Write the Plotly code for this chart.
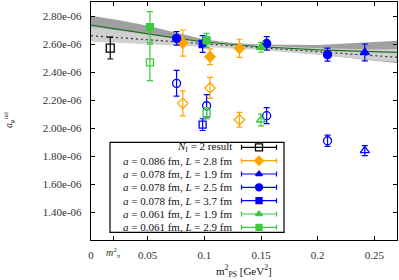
import plotly.graph_objects as go

# ---------------- data ----------------
nf2_x = [0.017]
nf2_y = [2.571e-6]
nf2_e = [0.078e-6]

# a = 0.086 fm, L = 2.8 fm (orange diamonds)
or_x = [0.081, 0.105, 0.131]
or_y_f = [2.607e-6, 2.509e-6, 2.569e-6]
or_e_f = [0.093e-6, 0.056e-6, 0.065e-6]
or_y_o = [2.176e-6, 2.286e-6, 2.059e-6]
or_e_o = [0.089e-6, 0.075e-6, 0.053e-6]

# a = 0.078 fm, L = 1.9 fm (blue triangles)
bt_x = [0.2416]
bt_y_f = [2.540e-6]
bt_e_f = [0.060e-6]
bt_y_o = [1.838e-6]
bt_e_o = [0.036e-6]

# a = 0.078 fm, L = 2.5 fm (blue circles)
bc_x_f = [0.0755, 0.155, 0.2087]
bc_y_f = [2.640e-6, 2.604e-6, 2.524e-6]
bc_e_f = [0.048e-6, 0.048e-6, 0.046e-6]
bc_x_o = [0.0755, 0.102, 0.155, 0.2087]
bc_y_o = [2.319e-6, 2.159e-6, 2.088e-6, 1.909e-6]
bc_e_o = [0.092e-6, 0.080e-6, 0.057e-6, 0.040e-6]

# a = 0.078 fm, L = 3.7 fm (blue squares)
bs_x = [0.0985]
bs_y_f = [2.600e-6]
bs_e_f = [0.060e-6]
bs_y_o = [2.024e-6]
bs_e_o = [0.042e-6]

# a = 0.061 fm, L = 1.9 fm (green triangles)
gt_x = [0.150]
gt_y_f = [2.576e-6]
gt_e_f = [0.035e-6]
gt_y_o = [2.057e-6]
gt_e_o = [0.042e-6]

# a = 0.061 fm, L = 2.9 fm (green squares)
gs_x = [0.052, 0.102]
gs_y_f = [2.721e-6, 2.626e-6]
gs_e_f = [0.110e-6, 0.050e-6]
gs_y_o = [2.469e-6, 2.105e-6]
gs_e_o = [0.130e-6, 0.040e-6]

# fit curves and bands
fit_x = [0.0, 0.025, 0.05, 0.075, 0.1, 0.125, 0.15, 0.2, 0.25, 0.27]
fitA_c = [2.736e-6, 2.704e-6, 2.672e-6, 2.642e-6, 2.614e-6, 2.595e-6, 2.580e-6, 2.558e-6, 2.545e-6, 2.540e-6]
fitA_hi = [2.802e-6, 2.770e-6, 2.730e-6, 2.680e-6, 2.632e-6, 2.608e-6, 2.597e-6, 2.592e-6, 2.612e-6, 2.624e-6]
fitA_lo = [2.670e-6, 2.640e-6, 2.615e-6, 2.600e-6, 2.590e-6, 2.580e-6, 2.563e-6, 2.525e-6, 2.480e-6, 2.465e-6]
fitB_c = [2.659e-6, 2.645e-6, 2.631e-6, 2.617e-6, 2.603e-6, 2.589e-6, 2.575e-6, 2.546e-6, 2.516e-6, 2.505e-6]
fitB_hi = [2.722e-6, 2.695e-6, 2.668e-6, 2.642e-6, 2.620e-6, 2.603e-6, 2.590e-6, 2.570e-6, 2.560e-6, 2.564e-6]
fitB_lo = [2.617e-6, 2.608e-6, 2.598e-6, 2.590e-6, 2.582e-6, 2.570e-6, 2.558e-6, 2.524e-6, 2.484e-6, 2.474e-6]

x_tickvals = [0, 0.0195, 0.05, 0.1, 0.15, 0.2, 0.25]
x_ticktext = ["0", "", "0.05", "0.1", "0.15", "0.2", "0.25"]
mpi_label = "<i>m</i><sup>2</sup><sub>π</sub>"
y_tickvals = [1.4e-6, 1.6e-6, 1.8e-6, 2.0e-6, 2.2e-6, 2.4e-6, 2.6e-6, 2.8e-6]
y_ticktext = ["1.40e-06", "1.60e-06", "1.80e-06", "2.00e-06", "2.20e-06", "2.40e-06", "2.60e-06", "2.80e-06"]

legend_labels = [
    "<i>N</i><sub>f</sub> = 2 result",
    "<i>a</i> = 0.086 fm, <i>L</i> = 2.8 fm",
    "<i>a</i> = 0.078 fm, <i>L</i> = 1.9 fm",
    "<i>a</i> = 0.078 fm, <i>L</i> = 2.5 fm",
    "<i>a</i> = 0.078 fm, <i>L</i> = 3.7 fm",
    "<i>a</i> = 0.061 fm, <i>L</i> = 1.9 fm",
    "<i>a</i> = 0.061 fm, <i>L</i> = 2.9 fm",
]

# ---------------- style ----------------
BLACK = "#000000"
ORANGE = "#ffa500"
BLUE = "#0000ff"
GREEN = "#3ec83e"
FONT = "Liberation Serif, DejaVu Serif, serif"

fig = go.Figure()

# bands
fig.add_trace(go.Scatter(x=fit_x + fit_x[::-1], y=fitA_hi + fitA_lo[::-1], fill="toself",
                         fillcolor="#a0a0a0", line=dict(width=0), mode="lines",
                         hoverinfo="skip", showlegend=False))
fig.add_trace(go.Scatter(x=fit_x + fit_x[::-1], y=fitB_hi + fitB_lo[::-1], fill="toself",
                         fillcolor="#d0d0d0", line=dict(width=0), mode="lines",
                         hoverinfo="skip", showlegend=False))
fig.add_trace(go.Scatter(x=fit_x, y=fitB_c, mode="lines",
                         line=dict(color="#333333", width=1.2, dash="2px,3px"),
                         showlegend=False))
fig.add_trace(go.Scatter(x=fit_x, y=fitA_c, mode="lines",
                         line=dict(color="#1a6e1a", width=1.1),
                         showlegend=False))


def pts(x, y, e, color, symbol, size):
    fig.add_trace(go.Scatter(
        x=x, y=y, mode="markers",
        error_y=dict(type="data", array=e, visible=True, color=color, thickness=1.2, width=3),
        marker=dict(color=color, symbol=symbol, size=size, line=dict(color=color, width=1.3)),
        showlegend=False))


pts(nf2_x, nf2_y, nf2_e, BLACK, "square-open", 8)
pts(or_x, or_y_o, or_e_o, ORANGE, "diamond-open", 8)
pts(or_x, or_y_f, or_e_f, ORANGE, "diamond", 8)
pts(bt_x, bt_y_o, bt_e_o, BLUE, "triangle-up-open", 8)
pts(bt_x, bt_y_f, bt_e_f, BLUE, "triangle-up", 8)
pts(bc_x_o, bc_y_o, bc_e_o, BLUE, "circle-open", 8)
pts(bc_x_f, bc_y_f, bc_e_f, BLUE, "circle", 8)
pts(bs_x, bs_y_o, bs_e_o, BLUE, "square-open", 7)
pts(bs_x, bs_y_f, bs_e_f, BLUE, "square", 7)
pts(gt_x, gt_y_o, gt_e_o, GREEN, "triangle-up-open", 8)
pts(gt_x, gt_y_f, gt_e_f, GREEN, "triangle-up", 8)
pts(gs_x, gs_y_o, gs_e_o, GREEN, "square-open", 7)
pts(gs_x, gs_y_f, gs_e_f, GREEN, "square", 7)

# ---------------- hand-made legend on an overlay axis (0..1 of plot area) ----------------
L, R, T, B = 91, 2, 2, 40
W, H = 399, 280
pw, ph = W - L - R, H - T - B


def u(px):
    return (px - L) / pw


def v(py):
    return (H - B - py) / ph


leg_rows = [147.3, 160.7, 174.0, 187.3, 200.7, 214.0, 227.3]
leg_cols = [BLACK, ORANGE, BLUE, BLUE, BLUE, GREEN, GREEN]
leg_syms = ["square-open", "diamond", "triangle-up", "circle", "square", "triangle-up", "square"]
leg_size = [7, 7, 6, 7, 6, 6, 6]
for py, c, s, sz in zip(leg_rows, leg_cols, leg_syms, leg_size):
    fig.add_trace(go.Scatter(
        x=[u(259)], y=[v(py)], xaxis="x2", yaxis="y2", mode="markers",
        error_x=dict(type="data", array=[17.5 / pw], visible=True, color=c, thickness=1.2, width=2.5),
        marker=dict(color=c, symbol=s, size=sz, line=dict(color=c, width=1.3)),
        showlegend=False))

shapes = [dict(type="rect", xref="paper", yref="paper", x0=u(110), x1=u(284), y0=v(232.3), y1=v(142.3),
               line=dict(color="#000000", width=1.2), fillcolor="rgba(255,255,255,0)", layer="below")]

TXT = dict(family=FONT, size=11, color="#111111")
annotations = []
for py, txt in zip(leg_rows, legend_labels):
    annotations.append(dict(x=u(233.5), y=v(py), xref="paper", yref="paper", text=txt,
                            showarrow=False, xanchor="right", yanchor="middle", font=TXT))

annotations.append(dict(x=x_tickvals[1], y=v(252.5), xref="x", yref="paper", text=mpi_label,
                        showarrow=False, xanchor="center", yanchor="middle",
                        font=dict(family=FONT, size=10, color="#333333")))
annotations.append(dict(x=u(244), y=v(271), xref="paper", yref="paper",
                        text="m<sup>2</sup><sub>PS</sub> [GeV<sup>2</sup>]", showarrow=False,
                        xanchor="center", yanchor="middle", font=TXT))
annotations.append(dict(x=u(9), y=v(120), xref="paper", yref="paper",
                        text="<i>a</i><sub>μ</sub><sup>ud</sup>", showarrow=False, textangle=-90,
                        xanchor="center", yanchor="middle",
                        font=dict(family=FONT, size=10, color="#111111")))

axis_common = dict(ticks="inside", ticklen=4, tickcolor="#000000", showline=True, linecolor="#000000",
                   linewidth=1.2, mirror="ticks", showgrid=False, zeroline=False, automargin=False,
                   tickfont=dict(family=FONT, size=11, color="#333333"))

fig.update_layout(
    template="none",
    width=W, height=H,
    margin=dict(l=L, r=R, t=T, b=B, pad=0),
    paper_bgcolor="#ffffff", plot_bgcolor="#ffffff",
    showlegend=False,
    font=dict(family=FONT, size=11, color="#000000"),
    xaxis=dict(range=[0, 0.27], tickvals=x_tickvals, ticktext=x_ticktext, ticklabelstandoff=5,
               **axis_common),
    yaxis=dict(range=[1.2e-6, 2.9e-6], tickvals=y_tickvals, ticktext=y_ticktext, ticklabelstandoff=6,
               **axis_common),
    xaxis2=dict(range=[0, 1], overlaying="x", anchor="y2", visible=False, fixedrange=True),
    yaxis2=dict(range=[0, 1], overlaying="y", anchor="x2", visible=False, fixedrange=True),
    shapes=shapes,
    annotations=annotations,
)

fig.write_html("out.html", config={"displayModeBar": False, "staticPlot": True},
               post_script="document.body.style.margin='0px';document.body.style.overflow='hidden';")
